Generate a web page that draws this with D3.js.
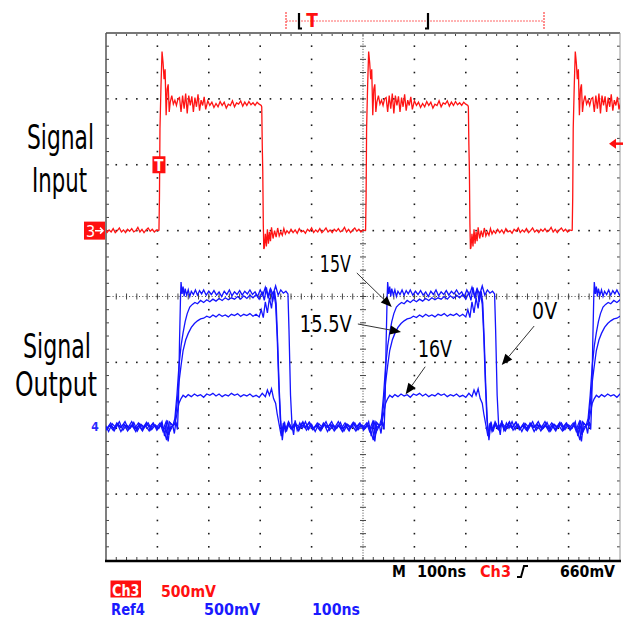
<!DOCTYPE html>
<html>
<head>
<meta charset="utf-8">
<script src="https://cdn.jsdelivr.net/npm/d3@7"></script>
<style>
  body { margin: 0; background: #fff; }
  text { font-family: "Liberation Sans Narrow", "DejaVu Sans Condensed", "Liberation Sans", sans-serif; }
</style>
</head>
<body>
<div id="scope"></div>
<script>
// time in ns (100 ns/div), level in divisions from screen centre
const redCycleStarts = [-299, 103, 505, 907];
const blueCycleStarts = [-272, 130, 532, 934];

// Ch3 input, one period from its rising edge
const redCycle = [[0,1.0],[1,1.5],[2,2.55],[4,3.2],[6,3.72],[8,3.55],[10,3.3],[12,3.45],[14,2.75],[16,3.15],[18,3.22],[20,2.8],[22,2.95],[25,3.05],[28,2.92],[31,2.98],[34,2.9],[37,3.0],[40,3.02],[43,2.8],[46,3.05],[49,2.85],[52,3.08],[55,2.78],[58,3.05],[61,2.9],[64,3.04],[67,2.8],[70,3.02],[73,2.88],[76,3.07],[79,2.82],[82,2.98],[85,2.9],[88,3.03],[91,2.84],[95,2.97],[99,2.9],[103,2.95],[107,2.87],[111,2.93],[115,2.88],[119,2.96],[123,2.9],[127,2.95],[131,2.86],[135,2.92],[139,2.9],[143,2.97],[147,2.88],[151,2.94],[155,2.92],[159,2.97],[163,2.89],[167,2.95],[171,2.9],[175,2.96],[179,2.91],[183,2.94],[187,2.9],[191,2.95],[195,2.92],[199,2.9],[200,2.88],[201,2.3],[202,1.9],[203,1.1],[204,0.72],[205,0.74],[207,0.95],[209,0.76],[211,1.02],[213,0.8],[215,0.98],[217,0.84],[219,1.05],[222,0.88],[225,1.0],[228,0.9],[231,1.04],[234,0.92],[237,0.98],[240,0.93],[243,1.03],[246,0.95],[249,1.0],[253,0.96],[257,1.02],[261,0.97],[265,1.01],[269,0.96],[273,1.03],[277,0.98],[281,1.0],[285,0.96],[289,1.02],[293,0.99],[297,1.04],[301,0.97],[305,1.01],[309,0.98],[313,1.03],[317,0.97],[321,1.0],[325,1.04],[329,0.98],[333,1.01],[337,0.97],[341,1.02],[345,0.99],[349,1.03],[353,0.98],[357,1.0],[361,1.05],[365,0.98],[369,1.02],[373,0.97],[377,1.01],[381,1.04],[385,0.99],[389,1.02],[393,0.98],[397,1.01],[402,1.0]];

// Ref4 output traces, one period each
const blue0V = [[0,-1.96],[3,-2.08],[6,-1.9],[9,-2.02],[11,-1.6],[13,-0.7],[15,0.0],[16,0.22],[18,0.04],[20,0.15],[22,0.0],[24,0.12],[27,0.02],[30,0.1],[33,0.0],[36,0.08],[40,0.03],[44,0.1],[48,0.02],[52,0.09],[56,0.04],[60,0.1],[65,0.02],[70,0.08],[75,0.03],[80,0.09],[85,0.02],[90,0.07],[95,0.0],[100,0.08],[105,0.03],[110,0.1],[115,0.01],[120,0.07],[125,0.03],[130,0.09],[135,0.02],[140,0.08],[145,0.04],[150,0.1],[155,0.03],[160,0.07],[165,0.0],[170,0.1],[175,0.02],[180,0.14],[185,0.0],[190,0.12],[195,0.03],[200,0.16],[205,0.02],[210,0.1],[215,0.05],[220,0.08],[224,0.04],[226,-0.5],[229,-1.5],[232,-1.97],[235,-2.1],[238,-1.88],[242,-2.03],[247,-1.92],[252,-2.0],[258,-1.9],[264,-2.02],[270,-1.94],[277,-2.05],[284,-1.93],[291,-1.99],[298,-1.9],[305,-2.03],[312,-1.95],[319,-2.0],[326,-1.91],[333,-2.04],[340,-1.94],[347,-1.99],[354,-1.92],[361,-2.02],[368,-1.95],[375,-2.0],[381,-1.9],[386,-2.12],[391,-1.88],[396,-2.05],[402,-1.96]];
const blue15V = [[0,-1.96],[4,-1.85],[8,-1.5],[12,-1.05],[16,-0.75],[20,-0.55],[24,-0.38],[28,-0.26],[33,-0.16],[38,-0.12],[43,-0.09],[48,-0.11],[54,-0.06],[60,-0.09],[66,-0.05],[72,-0.08],[78,-0.04],[84,-0.07],[90,-0.03],[96,-0.06],[102,-0.02],[108,-0.05],[114,-0.02],[120,-0.04],[126,0.0],[132,-0.04],[138,0.01],[144,-0.03],[150,0.02],[156,-0.02],[162,0.03],[168,-0.04],[174,0.06],[178,-0.06],[182,0.14],[186,-0.03],[190,0.12],[194,-0.08],[198,0.08],[201,-0.1],[204,-0.7],[207,-1.4],[210,-1.9],[213,-2.18],[217,-1.9],[221,-2.05],[226,-1.92],[232,-2.02],[239,-1.93],[246,-1.99],[253,-1.9],[260,-2.03],[267,-1.95],[274,-2.0],[281,-1.92],[288,-2.04],[295,-1.94],[302,-1.98],[309,-1.9],[316,-2.02],[323,-1.96],[330,-2.05],[337,-1.93],[344,-1.99],[351,-1.91],[358,-2.03],[365,-1.95],[372,-2.01],[379,-1.93],[385,-2.04],[390,-2.18],[395,-1.9],[402,-1.96]];
const blue155V = [[0,-1.96],[4,-1.92],[8,-1.65],[12,-1.3],[16,-1.05],[20,-0.82],[25,-0.66],[30,-0.56],[36,-0.47],[42,-0.41],[48,-0.37],[54,-0.34],[60,-0.33],[66,-0.3],[72,-0.32],[78,-0.28],[84,-0.31],[90,-0.27],[96,-0.3],[102,-0.28],[108,-0.31],[114,-0.27],[120,-0.29],[126,-0.26],[132,-0.3],[138,-0.27],[144,-0.29],[150,-0.26],[156,-0.3],[162,-0.27],[168,-0.31],[172,-0.2],[176,-0.32],[180,-0.08],[184,-0.25],[188,-0.02],[192,-0.18],[196,0.08],[200,-0.12],[203,-0.6],[206,-1.3],[209,-1.85],[212,-2.1],[216,-1.95],[220,-2.02],[225,-1.9],[231,-2.0],[238,-1.94],[245,-2.04],[252,-1.92],[259,-1.98],[266,-1.91],[273,-2.02],[280,-1.95],[287,-2.0],[294,-1.93],[301,-2.05],[308,-1.95],[315,-1.99],[322,-1.9],[329,-2.01],[336,-1.96],[343,-2.04],[350,-1.93],[357,-1.98],[364,-1.92],[371,-2.03],[378,-1.96],[384,-2.0],[389,-1.9],[394,-2.1],[398,-1.98],[402,-1.96]];
const blue16V = [[0,-1.96],[4,-1.94],[8,-1.78],[12,-1.62],[16,-1.55],[20,-1.5],[25,-1.53],[30,-1.49],[36,-1.52],[42,-1.48],[48,-1.51],[54,-1.49],[60,-1.53],[66,-1.48],[72,-1.5],[78,-1.47],[84,-1.51],[90,-1.48],[96,-1.52],[102,-1.49],[108,-1.51],[114,-1.47],[120,-1.5],[126,-1.48],[132,-1.52],[138,-1.49],[144,-1.51],[150,-1.48],[156,-1.52],[162,-1.5],[168,-1.53],[174,-1.47],[180,-1.52],[184,-1.42],[188,-1.5],[192,-1.4],[196,-1.55],[200,-1.62],[203,-1.78],[207,-1.95],[211,-2.12],[215,-1.92],[219,-2.05],[224,-1.94],[230,-2.01],[237,-1.92],[244,-2.03],[251,-1.95],[258,-2.0],[265,-1.91],[272,-2.02],[279,-1.96],[286,-2.03],[293,-1.92],[300,-1.99],[307,-1.94],[314,-2.04],[321,-1.95],[328,-2.0],[335,-1.92],[342,-2.02],[349,-1.96],[356,-2.04],[363,-1.93],[370,-1.99],[377,-1.92],[383,-2.05],[388,-1.97],[393,-2.2],[397,-1.92],[402,-1.96]];
const blueTraces = [blue0V, blue15V, blue155V, blue16V];

// annotation labels and where they sit / point (ns, div)
const noteLabels = ["15V", "15.5V", "16V", "0V"];
const noteText = [[416, 0.376], [377, -0.534], [607, -0.918], [829, -0.342]];
const noteFrom = [[488, 0.357], [490, -0.417], [621, -1.066], [833, -0.448]];
const noteTip = [[556, -0.16], [574, -0.539], [583, -1.485], [770, -1.04]];

const ch3Ground = 1.0, ch3Trigger = 2.32, ref4Ground = -1.97, triggerTime = 103;

const width = 625, height = 621;
const x = d3.scaleLinear().domain([0, 1000]).range([106, 620]);
const y = d3.scaleLinear().domain([-4, 4]).range([560, 33]);

const svg = d3.select("#scope").append("svg")
  .attr("width", width).attr("height", height);

// graticule
const grid = svg.append("g").attr("fill", "#1a1a1a");
const minorX = d3.range(1, 50).map(i => i * 20);
const minorY = d3.range(1, 40).map(i => -4 + i * 0.2);

[100, 200, 300, 400, 600, 700, 800, 900].forEach(t => {
  grid.selectAll(null).data(minorY).join("rect")
    .attr("x", x(t) - 0.8).attr("y", d => y(d) - 0.8)
    .attr("width", 1.6).attr("height", 1.6);
});
[-3, -2, -1, 1, 2, 3].forEach(v => {
  grid.selectAll(null).data(minorX).join("rect")
    .attr("x", d => x(d) - 0.8).attr("y", y(v) - 0.8)
    .attr("width", 1.6).attr("height", 1.6);
});

// centre cross with ticks
svg.append("line").attr("x1", x(500)).attr("x2", x(500)).attr("y1", y(4)).attr("y2", y(-4))
  .attr("stroke", "#444").attr("stroke-dasharray", "1,1.65");
svg.append("line").attr("x1", x(0)).attr("x2", x(1000)).attr("y1", y(0)).attr("y2", y(0))
  .attr("stroke", "#444").attr("stroke-dasharray", "1,2.3");
svg.selectAll(null).data(minorY).join("line")
  .attr("x1", x(500) - 3).attr("x2", x(500) + 3).attr("y1", d => y(d)).attr("y2", d => y(d))
  .attr("stroke", "#444");
svg.selectAll(null).data(minorX).join("line")
  .attr("x1", d => x(d)).attr("x2", d => x(d)).attr("y1", y(0) - 3).attr("y2", y(0) + 3)
  .attr("stroke", "#444");

// border ticks
svg.selectAll(null).data(minorX).join("line")
  .attr("x1", d => x(d)).attr("x2", d => x(d)).attr("y1", y(4)).attr("y2", y(4) + 3).attr("stroke", "#444");
svg.selectAll(null).data(minorX).join("line")
  .attr("x1", d => x(d)).attr("x2", d => x(d)).attr("y1", y(-4)).attr("y2", y(-4) - 3).attr("stroke", "#444");
svg.selectAll(null).data(minorY).join("line")
  .attr("x1", x(0)).attr("x2", x(0) + 3).attr("y1", d => y(d)).attr("y2", d => y(d)).attr("stroke", "#444");
svg.selectAll(null).data(minorY).join("line")
  .attr("x1", x(1000)).attr("x2", x(1000) - 3).attr("y1", d => y(d)).attr("y2", d => y(d)).attr("stroke", "#444");

// frame
svg.append("line").attr("x1", x(0)).attr("x2", x(1000)).attr("y1", y(4)).attr("y2", y(4)).attr("stroke", "#777").attr("stroke-width", 2);
svg.append("line").attr("x1", x(0)).attr("x2", x(0)).attr("y1", y(4)).attr("y2", y(-4)).attr("stroke", "#555").attr("stroke-width", 1.5);
svg.append("line").attr("x1", x(1000)).attr("x2", x(1000)).attr("y1", y(4)).attr("y2", y(-4)).attr("stroke", "#999").attr("stroke-width", 1);
svg.append("line").attr("x1", x(0) - 1).attr("x2", x(1000) + 1).attr("y1", y(-4) + 1).attr("y2", y(-4) + 1).attr("stroke", "#000").attr("stroke-width", 2.5);

// traces
svg.append("clipPath").attr("id", "screen").append("rect")
  .attr("x", x(0)).attr("y", y(4)).attr("width", x(1000) - x(0)).attr("height", y(-4) - y(4));
const line = d3.line().x(d => x(d[0])).y(d => y(d[1]));
const traces = svg.append("g").attr("clip-path", "url(#screen)").attr("fill", "none");

blueTraces.forEach(shape => {
  traces.selectAll(null).data(blueCycleStarts).join("path")
    .attr("d", s => line(shape.map(p => [s + p[0], p[1]])))
    .attr("stroke", "#1414ff").attr("stroke-width", 1.3);
});
traces.selectAll(null).data(redCycleStarts).join("path")
  .attr("d", s => line(redCycle.map(p => [s + p[0], p[1]])))
  .attr("stroke", "#ff1414").attr("stroke-width", 1.3);

// trigger marker on the trace
svg.append("rect").attr("x", x(triggerTime) - 6.5).attr("y", y(ch3Trigger - 0.32) - 8.5)
  .attr("width", 13).attr("height", 17).attr("fill", "#ff1010");
svg.append("text").attr("x", x(triggerTime)).attr("y", y(ch3Trigger - 0.32) + 6)
  .attr("text-anchor", "middle").attr("fill", "#fff").attr("font-size", 15).attr("font-weight", "bold").text("T");

// channel ground markers
svg.append("rect").attr("x", 84).attr("y", y(ch3Ground) - 9).attr("width", 21).attr("height", 18).attr("fill", "#ff1010");
svg.append("text").attr("x", 86).attr("y", y(ch3Ground) + 6).attr("fill", "#fff").attr("font-size", 16).text("3");
svg.append("path").attr("d", `M95,${y(ch3Ground)}H103M100,${y(ch3Ground) - 3}L103,${y(ch3Ground)}L100,${y(ch3Ground) + 3}`)
  .attr("stroke", "#fff").attr("stroke-width", 1.5).attr("fill", "none");
svg.append("text").attr("x", 95).attr("y", y(ref4Ground) + 5).attr("text-anchor", "middle")
  .attr("fill", "#2a2aff").attr("font-size", 12).attr("font-weight", "bold").text("4");

// trigger level arrow at right
svg.append("path").attr("d", `M609,${y(ch3Trigger)}L616,${y(ch3Trigger) - 5}V${y(ch3Trigger) + 5}Z`).attr("fill", "#ff1010");
svg.append("line").attr("x1", 614).attr("x2", 623).attr("y1", y(ch3Trigger)).attr("y2", y(ch3Trigger))
  .attr("stroke", "#ff1010").attr("stroke-width", 2.5);

// record bar at the top
svg.append("line").attr("x1", 286).attr("x2", 544).attr("y1", 21).attr("y2", 21)
  .attr("stroke", "#f66").attr("stroke-dasharray", "2,1");
[286, 544].forEach(px => svg.append("line").attr("x1", px).attr("x2", px).attr("y1", 12).attr("y2", 30)
  .attr("stroke", "#f44").attr("stroke-width", 1.2).attr("stroke-dasharray", "2,1"));
svg.append("path").attr("d", "M299,13V28.5H302").attr("stroke", "#000").attr("stroke-width", 2.2).attr("fill", "none");
svg.append("path").attr("d", "M428,13V28.5H425").attr("stroke", "#000").attr("stroke-width", 2.2).attr("fill", "none");
svg.append("text").attr("x", 312).attr("y", 27).attr("text-anchor", "middle").attr("fill", "#ff1010")
  .attr("font-size", 19).attr("font-weight", "bold").text("T");

// side labels
const sideLabels = [["Signal", 27, 149, 67], ["Input", 32, 192, 55], ["Signal", 23, 358, 68], ["Output", 15, 396, 82]];
svg.selectAll(null).data(sideLabels).join("text")
  .attr("x", d => d[1]).attr("y", d => d[2]).attr("textLength", d => d[3]).attr("lengthAdjust", "spacingAndGlyphs")
  .attr("font-size", 33).attr("fill", "#000").text(d => d[0]);

// annotations
const noteWidths = [31, 52, 34, 25];
svg.selectAll(null).data(noteLabels).join("text")
  .attr("x", (d, i) => x(noteText[i][0])).attr("y", (d, i) => y(noteText[i][1]))
  .attr("textLength", (d, i) => noteWidths[i]).attr("lengthAdjust", "spacingAndGlyphs")
  .attr("font-size", 23).attr("fill", "#000").text(d => d);
noteLabels.forEach((d, i) => {
  const x0 = x(noteFrom[i][0]), y0 = y(noteFrom[i][1]);
  const x1 = x(noteTip[i][0]), y1 = y(noteTip[i][1]);
  const a = Math.atan2(y1 - y0, x1 - x0), len = 11, hw = 4.5;
  const bx = x1 - len * Math.cos(a), by = y1 - len * Math.sin(a);
  svg.append("line").attr("x1", x0).attr("y1", y0).attr("x2", bx).attr("y2", by).attr("stroke", "#333").attr("stroke-width", 1);
  svg.append("path").attr("fill", "#000")
    .attr("d", `M${x1},${y1}L${bx - hw * Math.sin(a)},${by + hw * Math.cos(a)}L${bx + hw * Math.sin(a)},${by - hw * Math.cos(a)}Z`);
});

// status text
const status = svg.append("g").attr("font-size", 15.5).attr("font-weight", "bold");
status.append("text").attr("x", 392).attr("y", 577).attr("fill", "#000").text("M");
status.append("text").attr("x", 417).attr("y", 577).attr("fill", "#000").attr("textLength", 49).attr("lengthAdjust", "spacingAndGlyphs").text("100ns");
status.append("text").attr("x", 480).attr("y", 577).attr("fill", "#ff1010").attr("textLength", 31).attr("lengthAdjust", "spacingAndGlyphs").text("Ch3");
status.append("path").attr("d", "M517,577H521L524,566H528").attr("stroke", "#000").attr("stroke-width", 2).attr("fill", "none");
status.append("text").attr("x", 560).attr("y", 577).attr("fill", "#000").attr("textLength", 55).attr("lengthAdjust", "spacingAndGlyphs").text("660mV");

status.append("rect").attr("x", 110.5).attr("y", 580.5).attr("width", 30.5).attr("height", 17).attr("fill", "#ff1010");
status.append("text").attr("x", 112).attr("y", 595.5).attr("fill", "#fff").attr("textLength", 27.5).attr("lengthAdjust", "spacingAndGlyphs").text("Ch3");
status.append("text").attr("x", 161).attr("y", 596.5).attr("fill", "#ff1010").attr("textLength", 55).attr("lengthAdjust", "spacingAndGlyphs").text("500mV");
status.append("text").attr("x", 111).attr("y", 615).attr("fill", "#1a1aff").attr("textLength", 34).attr("lengthAdjust", "spacingAndGlyphs").text("Ref4");
status.append("text").attr("x", 204).attr("y", 615).attr("fill", "#1a1aff").attr("textLength", 56).attr("lengthAdjust", "spacingAndGlyphs").text("500mV");
status.append("text").attr("x", 312).attr("y", 615).attr("fill", "#1a1aff").attr("textLength", 48).attr("lengthAdjust", "spacingAndGlyphs").text("100ns");
</script>
</body>
</html>
